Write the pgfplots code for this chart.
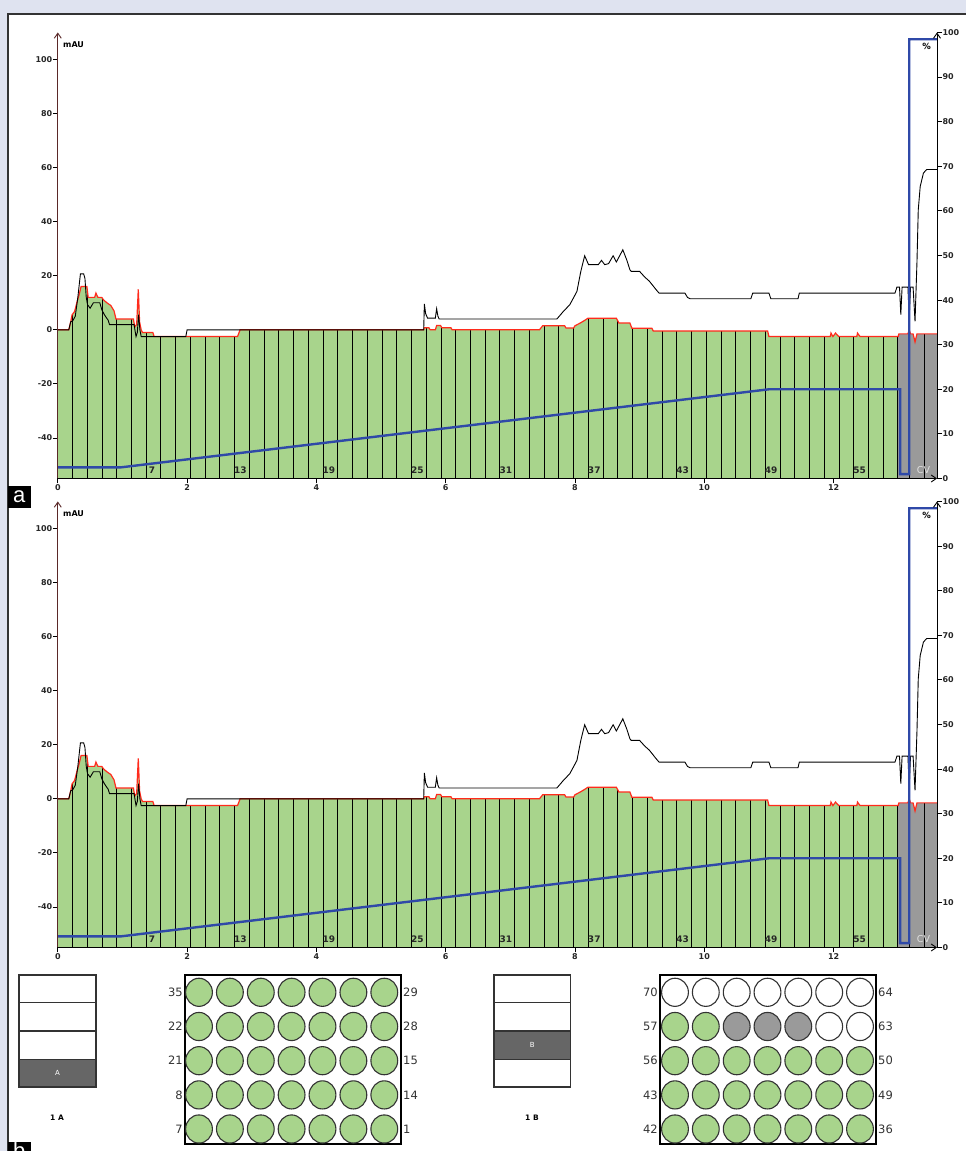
\documentclass[border=0pt]{standalone}
\usepackage{fontspec}
\setmainfont{DejaVu Sans}
\newfontfamily\arialf{Liberation Sans}
\usepackage{pgfplots}
\pgfplotsset{compat=1.18}
\usepackage{pgfplotstable}
\usetikzlibrary{arrows.meta}

\definecolor{bgc}{HTML}{DFE3F0}
\definecolor{frgreen}{HTML}{A8D48C}
\definecolor{frgray}{HTML}{9A9A9A}
\definecolor{gblue}{HTML}{2F49A8}
\definecolor{uvred}{HTML}{FF2B1C}
\definecolor{axred}{HTML}{5A2828}
\definecolor{darkcell}{HTML}{666666}
\definecolor{outl}{HTML}{333333}

\newcommand\tickfont{\bfseries\fontsize{8}{8}\selectfont}

% UV trace (mAU)
\pgfplotstableread{
x y
0 0
0.17 0
0.20 3
0.22 5.5
0.26 6.8
0.30 10.5
0.33 13
0.36 16
0.45 16
0.47 12
0.57 12
0.59 13.6
0.62 12
0.68 12
0.71 11
0.76 10
0.82 9
0.87 7
0.90 4
1.17 4
1.19 1
1.22 2
1.245 15
1.265 3
1.29 0
1.31 -1
1.47 -1
1.49 -2.5
2.78 -2.5
2.82 0
5.66 0
5.67 0.8
5.74 0.8
5.76 0
5.84 0
5.86 1.6
5.92 1.6
5.94 0.8
6.08 0.8
6.10 0
7.45 0
7.50 1.5
7.84 1.5
7.86 0.7
7.98 0.7
8.00 1.5
8.08 2.5
8.15 3.5
8.20 4.3
8.64 4.3
8.68 2.5
8.85 2.5
8.88 0.6
9.19 0.6
9.21 -0.4
10.98 -0.4
11.00 -2.5
11.95 -2.5
11.96 -1.2
11.99 -2.5
12.03 -1.2
12.08 -2.5
12.36 -2.5
12.37 -1.2
12.41 -2.5
13.00 -2.5
13.01 -1.5
13.15 -1.5
13.17 0
13.19 -1.5
13.23 -1.5
13.26 -4.5
13.29 -1.5
13.6 -1.5
}\uvdata

% conductivity trace
\pgfplotstableread{
x y
0 0
0.17 0
0.20 3
0.23 3.3
0.27 5
0.31 12
0.35 20.7
0.40 20.7
0.42 19
0.44 12
0.46 9.3
0.50 8
0.55 10
0.65 10
0.68 7.5
0.72 5.6
0.78 3.5
0.80 1.9
1.18 1.9
1.21 -2.5
1.23 -1
1.25 5.6
1.27 0
1.29 -2.5
1.98 -2.5
2.00 0
5.66 0
5.67 9.6
5.69 6
5.72 4.3
5.84 4.3
5.86 7.8
5.88 5
5.90 4
7.72 4
7.82 6.8
7.92 9.3
8.03 14.2
8.09 21.6
8.15 27.4
8.21 24.1
8.36 24.1
8.41 25.7
8.46 24.1
8.52 24.5
8.59 27.4
8.64 25.1
8.74 29.6
8.80 25.9
8.85 22.2
8.87 21.6
9.00 21.6
9.08 19.5
9.15 18
9.20 16.5
9.25 15
9.30 13.6
9.70 13.6
9.74 12
9.78 11.5
10.72 11.5
10.75 13.6
11.00 13.6
11.03 11.5
11.45 11.5
11.47 13.6
12.95 13.6
12.98 15.8
13.02 15.8
13.04 5.6
13.06 15.8
13.15 15.8
13.17 4.3
13.19 15.8
13.23 15.8
13.26 3.1
13.29 25
13.31 44.4
13.34 53
13.39 58
13.44 59.3
13.6 59.3
}\conddata

% gradient (%B expressed on mAU scale)
\pgfplotstableread{
x y
0 -50.9
0.97 -50.9
11.0 -22
13.03 -22
13.03 -53.4
13.17 -53.4
13.17 107.5
13.6 107.5
}\graddata

% fraction boundaries
\pgfplotstableread{
x y
0.228 -55
0.228 40
0.228 nan
0.456 -55
0.456 40
0.456 nan
0.684 -55
0.684 40
0.684 nan
0.912 -55
0.912 40
0.912 nan
1.140 -55
1.140 40
1.140 nan
1.368 -55
1.368 40
1.368 nan
1.596 -55
1.596 40
1.596 nan
1.824 -55
1.824 40
1.824 nan
2.052 -55
2.052 40
2.052 nan
2.280 -55
2.280 40
2.280 nan
2.508 -55
2.508 40
2.508 nan
2.736 -55
2.736 40
2.736 nan
2.964 -55
2.964 40
2.964 nan
3.192 -55
3.192 40
3.192 nan
3.420 -55
3.420 40
3.420 nan
3.648 -55
3.648 40
3.648 nan
3.876 -55
3.876 40
3.876 nan
4.104 -55
4.104 40
4.104 nan
4.332 -55
4.332 40
4.332 nan
4.560 -55
4.560 40
4.560 nan
4.788 -55
4.788 40
4.788 nan
5.016 -55
5.016 40
5.016 nan
5.244 -55
5.244 40
5.244 nan
5.472 -55
5.472 40
5.472 nan
5.700 -55
5.700 40
5.700 nan
5.928 -55
5.928 40
5.928 nan
6.156 -55
6.156 40
6.156 nan
6.384 -55
6.384 40
6.384 nan
6.612 -55
6.612 40
6.612 nan
6.840 -55
6.840 40
6.840 nan
7.068 -55
7.068 40
7.068 nan
7.296 -55
7.296 40
7.296 nan
7.524 -55
7.524 40
7.524 nan
7.752 -55
7.752 40
7.752 nan
7.980 -55
7.980 40
7.980 nan
8.208 -55
8.208 40
8.208 nan
8.436 -55
8.436 40
8.436 nan
8.664 -55
8.664 40
8.664 nan
8.892 -55
8.892 40
8.892 nan
9.120 -55
9.120 40
9.120 nan
9.348 -55
9.348 40
9.348 nan
9.576 -55
9.576 40
9.576 nan
9.804 -55
9.804 40
9.804 nan
10.032 -55
10.032 40
10.032 nan
10.260 -55
10.260 40
10.260 nan
10.488 -55
10.488 40
10.488 nan
10.716 -55
10.716 40
10.716 nan
10.944 -55
10.944 40
10.944 nan
11.172 -55
11.172 40
11.172 nan
11.400 -55
11.400 40
11.400 nan
11.628 -55
11.628 40
11.628 nan
11.856 -55
11.856 40
11.856 nan
12.084 -55
12.084 40
12.084 nan
12.312 -55
12.312 40
12.312 nan
12.540 -55
12.540 40
12.540 nan
12.768 -55
12.768 40
12.768 nan
12.996 -55
12.996 40
12.996 nan
13.17 -55
13.17 40
13.17 nan
13.40 -55
13.40 40
13.40 nan
}\fracdata

\pgfplotstableread{
x y lab
1.458 -52.1 7
2.826 -52.1 13
4.194 -52.1 19
5.562 -52.1 25
6.930 -52.1 31
8.298 -52.1 37
9.666 -52.1 43
11.034 -52.1 49
12.402 -52.1 55
}\fraclabels

% rack plate wells
\pgfplotstableread{
x y
199.0 158.7
229.9 158.7
260.8 158.7
291.6 158.7
322.5 158.7
353.4 158.7
384.3 158.7
199.0 124.5
229.9 124.5
260.8 124.5
291.6 124.5
322.5 124.5
353.4 124.5
384.3 124.5
199.0 90.3
229.9 90.3
260.8 90.3
291.6 90.3
322.5 90.3
353.4 90.3
384.3 90.3
199.0 56.1
229.9 56.1
260.8 56.1
291.6 56.1
322.5 56.1
353.4 56.1
384.3 56.1
199.0 22.0
229.9 22.0
260.8 22.0
291.6 22.0
322.5 22.0
353.4 22.0
384.3 22.0
675.0 124.5
705.8 124.5
675.0 90.3
705.8 90.3
736.7 90.3
767.5 90.3
798.3 90.3
829.2 90.3
860.0 90.3
675.0 56.1
705.8 56.1
736.7 56.1
767.5 56.1
798.3 56.1
829.2 56.1
860.0 56.1
675.0 22.0
705.8 22.0
736.7 22.0
767.5 22.0
798.3 22.0
829.2 22.0
860.0 22.0
}\greenwells

\pgfplotstableread{
x y
736.7 124.5
767.5 124.5
798.3 124.5
}\graywells

\pgfplotstableread{
x y
675.0 158.7
705.8 158.7
736.7 158.7
767.5 158.7
798.3 158.7
829.2 158.7
860.0 158.7
829.2 124.5
860.0 124.5
}\whitewells

\pgfplotstableread{
x y lab
184 158.7 35
184 124.5 22
184 90.3 21
184 56.1 8
184 22.0 7
659 158.7 70
659 124.5 57
659 90.3 56
659 56.1 43
659 22.0 42
}\leftlabels

\pgfplotstableread{
x y lab
402 158.7 29
402 124.5 28
402 90.3 15
402 56.1 14
402 22.0 1
877 158.7 64
877 124.5 63
877 90.3 50
877 56.1 49
877 22.0 36
}\rightlabels

\pgfplotsset{
  mainax/.style={
    width=879.2pt, height=446pt, scale only axis,
    xmin=0, xmax=13.6, ymin=-55, ymax=110,
    axis x line*=bottom, axis y line*=left,
    x axis line style={black, line width=0.9pt, -{Straight Barb[length=5pt,width=7pt]}},
    y axis line style={axred, line width=0.9pt, -{Straight Barb[length=5pt,width=7pt]}},
    xtick={0,2,...,12}, ytick={-40,-20,...,100},
    tick align=outside, major tick length=5pt,
    tick style={black, line width=0.8pt},
    tick label style={font=\tickfont, text=black!85},
    yticklabel style={xshift=3pt},
    xticklabel style={yshift=2pt},
    /pgf/number format/assume math mode=true,
    axis on top,
  },
  rightax/.style={
    width=879.2pt, height=446pt, scale only axis,
    xmin=0, xmax=13.6, ymin=0, ymax=100,
    axis x line=none, axis y line*=right,
    y axis line style={black, line width=0.9pt, -{Straight Barb[length=5pt,width=7pt]}},
    ytick={0,10,...,100},
    tick align=outside, major tick length=5pt,
    tick style={black, line width=0.8pt},
    tick label style={font=\tickfont, text=black!85},
    yticklabel style={xshift=-3pt},
    /pgf/number format/assume math mode=true,
  },
}

\newcommand{\chromapanel}{%
\begin{axis}[mainax, at={(0pt,0pt)}, anchor=south west]
\addplot[fill=frgreen, draw=none, restrict x to domain=0:13.0] table {\uvdata}
  -- (axis cs:13.0,-55) -- (axis cs:0,-55) -- cycle;
\addplot[fill=frgray, draw=none, restrict x to domain=13.0:13.6] table {\uvdata}
  -- (axis cs:13.6,-55) -- (axis cs:13.0,-55) -- cycle;
\addplot[black, line width=1pt, unbounded coords=jump] table {\fracdata};
\addplot[fill=white, draw=none] table {\uvdata}
  -- (axis cs:13.6,110) -- (axis cs:0,110) -- cycle;
\addplot[uvred, line width=1.2pt] table {\uvdata};
\addplot[black, line width=0.9pt] table {\conddata};
\addplot[gblue, line width=2.4pt] table {\graddata};
\addplot[draw=none, mark=none, nodes near coords, point meta=explicit symbolic,
  every node near coord/.style={anchor=center, font=\bfseries\fontsize{9}{9}\selectfont, text=black!85}]
  table[meta=lab] {\fraclabels};
\node[font=\fontsize{9.5}{9.5}\selectfont, text=black!12] at (axis cs:13.39,-52) {CV};
\node[font=\bfseries\fontsize{8}{8}\selectfont, anchor=west, inner sep=0pt] at (axis cs:0.08,105.5) {mAU};
\node[font=\bfseries\fontsize{8.5}{8.5}\selectfont, inner sep=0pt] at (axis cs:13.44,105) {\%};
\end{axis}
\begin{axis}[rightax, at={(0pt,0pt)}, anchor=south west]
\addplot[draw=none] coordinates {(0,0) (13.6,100)};
\end{axis}
}

\begin{document}
\begin{tikzpicture}
\fill[bgc] (0pt,0pt) rectangle (966pt,1151pt);
\fill[white] (8pt,0pt) rectangle (966pt,1137pt);
\draw[outl, line width=1.5pt] (8pt,0pt) -- (8pt,1137pt) -- (966pt,1137pt);

\begin{scope}[shift={(57.8pt,672.5pt)}]
\chromapanel
\end{scope}
\begin{scope}[shift={(57.8pt,203.5pt)}]
\chromapanel
\end{scope}

% panel letters
\fill[black] (8pt,643pt) rectangle (30.7pt,665pt);
\node[anchor=base, text=white, font=\arialf\fontsize{22}{22}\selectfont, inner sep=0pt] at (19.3pt,648pt) {a};
\begin{scope}
\clip (0pt,0pt) rectangle (966pt,1151pt);
\fill[black] (8pt,-13pt) rectangle (30.7pt,9pt);
\node[anchor=base, text=white, font=\arialf\fontsize{22}{22}\selectfont, inner sep=0pt] at (19.3pt,-8pt) {b};
\end{scope}

% racks
\begin{axis}[at={(0pt,0pt)}, anchor=south west, width=966pt, height=191pt, scale only axis,
  xmin=0, xmax=966, ymin=0, ymax=191, hide axis, clip=false]
% rack A
\fill[darkcell] (axis cs:19,64) rectangle (axis cs:96,91.7);
\draw[outl, line width=1.2pt] (axis cs:19,64) rectangle (axis cs:96,176);
\draw[outl, line width=1.2pt] (axis cs:19,91.7) -- (axis cs:96,91.7)
  (axis cs:19,120) -- (axis cs:96,120) (axis cs:19,148.3) -- (axis cs:96,148.3);
\node[text=white, font=\fontsize{7}{7}\selectfont] at (axis cs:57.5,77.8) {A};
\node[font=\bfseries\fontsize{7.5}{7.5}\selectfont] at (axis cs:57,33) {1 A};
% rack B
\fill[darkcell] (axis cs:494,91.7) rectangle (axis cs:570.7,120);
\draw[outl, line width=1.2pt] (axis cs:494,64) rectangle (axis cs:570.7,176);
\draw[outl, line width=1.2pt] (axis cs:494,91.7) -- (axis cs:570.7,91.7)
  (axis cs:494,120) -- (axis cs:570.7,120) (axis cs:494,148.3) -- (axis cs:570.7,148.3);
\node[text=white, font=\fontsize{7}{7}\selectfont] at (axis cs:532.3,105.8) {B};
\node[font=\bfseries\fontsize{7.5}{7.5}\selectfont] at (axis cs:532,33) {1 B};
% plates
\draw[black, line width=1.2pt] (axis cs:185,7) rectangle (axis cs:401,176);
\draw[black, line width=1.2pt] (axis cs:660,7) rectangle (axis cs:876,176);
\addplot[only marks, mark=*, mark size=13.4pt,
  mark options={draw=outl, fill=frgreen, line width=1.1pt, yscale=1.05}] table {\greenwells};
\addplot[only marks, mark=*, mark size=13.4pt,
  mark options={draw=outl, fill=frgray, line width=1.1pt, yscale=1.05}] table {\graywells};
\addplot[only marks, mark=*, mark size=13.4pt,
  mark options={draw=outl, fill=white, line width=1.1pt, yscale=1.05}] table {\whitewells};
\addplot[draw=none, mark=none, nodes near coords, point meta=explicit symbolic,
  every node near coord/.style={anchor=east, inner sep=1pt, font=\fontsize{11.5}{11.5}\selectfont, text=outl}]
  table[meta=lab] {\leftlabels};
\addplot[draw=none, mark=none, nodes near coords, point meta=explicit symbolic,
  every node near coord/.style={anchor=west, inner sep=1pt, font=\fontsize{11.5}{11.5}\selectfont, text=outl}]
  table[meta=lab] {\rightlabels};
\end{axis}
\pgfresetboundingbox
\useasboundingbox (0pt,0pt) rectangle (966pt,1151pt);
\end{tikzpicture}
\end{document}
